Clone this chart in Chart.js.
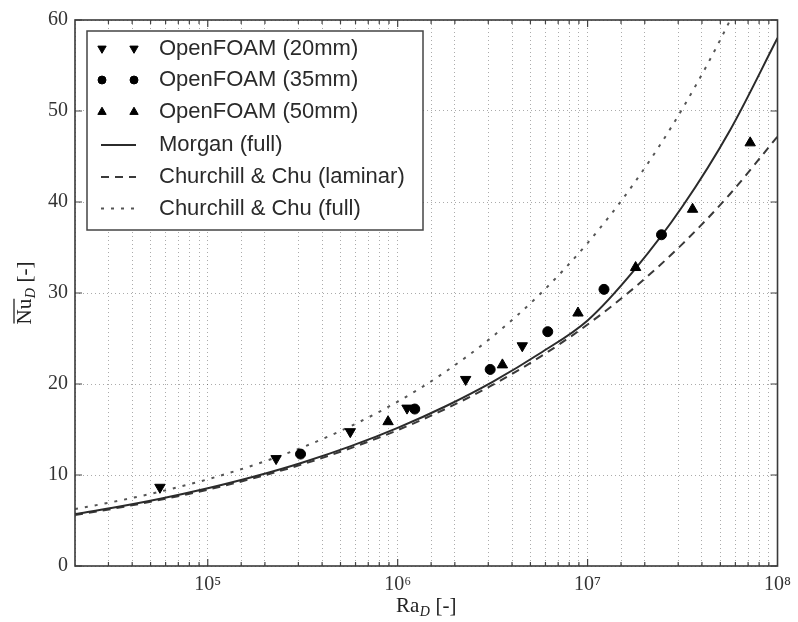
<!DOCTYPE html>
<html><head><meta charset="utf-8">
<script src="https://cdn.jsdelivr.net/npm/chart.js@4/dist/chart.umd.min.js"></script>
<style>html,body{margin:0;padding:0;background:#fff;} canvas{display:block;}</style>
</head><body>
<canvas id="c" width="798" height="622"></canvas>
<script>
// ---- data ----
const raCurve = [2e4, 31623, 56234, 1e5, 177828, 316228, 562341, 1e6, 1778279, 3162278, 5623413, 1e7, 17782794, 31622777, 56234133, 1e8];
const morganFull = [5.71, 6.40, 7.39, 8.54, 9.86, 11.38, 13.14, 15.18, 17.53, 20.24, 23.38, 26.99, 32.63, 39.53, 47.89, 58.02];
const ccLaminar = [5.61, 6.29, 7.27, 8.39, 9.69, 11.19, 12.93, 14.93, 17.24, 19.90, 22.98, 26.54, 30.65, 35.40, 40.88, 47.2];
const ccFull = [6.26, 7.04, 8.18, 9.53, 11.14, 13.05, 15.34, 18.06, 21.32, 25.22, 29.89, 35.49, 42.21, 50.28, 59.97, 71.63];

const of20Ra = [5.6e4, 2.29e5, 5.63e5, 1.12e6, 2.28e6, 4.53e6];
const of20Nu = [8.65, 11.8, 14.76, 17.35, 20.5, 24.2];
const of35Ra = [3.08e5, 1.23e6, 3.07e6, 6.17e6, 1.22e7, 2.45e7];
const of35Nu = [12.3, 17.25, 21.6, 25.75, 30.4, 36.4];
const of50Ra = [8.9e5, 3.56e6, 8.9e6, 1.79e7, 3.57e7, 7.18e7];
const of50Nu = [15.86, 22.1, 27.8, 32.8, 39.2, 46.5];

const seriesLabels = ['OpenFOAM (20mm)', 'OpenFOAM (35mm)', 'OpenFOAM (50mm)', 'Morgan (full)', 'Churchill & Chu (laminar)', 'Churchill & Chu (full)'];
const xTickLabels = {5: '10\u2075', 6: '10\u2076', 7: '10\u2077', 8: '10\u2078'};
const yTickValues = [0, 10, 20, 30, 40, 50, 60];
const xTitle = ['Ra', 'D', ' [-]'];
const yTitle = ['Nu', 'D', ' [-]'];

const zip = (xs, ys) => xs.map((x, i) => ({x: x, y: ys[i]}));
const isDecade = v => { const l = Math.log10(v); return Math.abs(l - Math.round(l)) < 1e-9; };

function shape(ctx, style, rot, r, x, y) {
  ctx.beginPath();
  if (style === 'circle') {
    ctx.arc(x, y, r, 0, Math.PI * 2);
  } else {
    let a = rot * Math.PI / 180;
    ctx.moveTo(x + Math.sin(a) * r, y - Math.cos(a) * r);
    for (let k = 0; k < 2; k++) { a += 2 * Math.PI / 3; ctx.lineTo(x + Math.sin(a) * r, y - Math.cos(a) * r); }
    ctx.closePath();
  }
  ctx.fill(); ctx.stroke();
}

const framePlugin = {
  id: 'frame',
  afterDatasetsDraw(chart) {
    const ctx = chart.ctx, a = chart.chartArea;
    const xs = chart.scales.x, ys = chart.scales.y;
    ctx.save();
    ctx.strokeStyle = '#444'; ctx.lineWidth = 1.2;
    ctx.beginPath();
    xs.ticks.forEach(t => {
      const px = xs.getPixelForValue(t.value);
      if (px <= a.left + 0.5 || px >= a.right - 0.5) return;
      const len = isDecade(t.value) ? 7 : 4;
      ctx.moveTo(px, a.bottom); ctx.lineTo(px, a.bottom - len);
      ctx.moveTo(px, a.top); ctx.lineTo(px, a.top + len);
    });
    ys.ticks.forEach(t => {
      const py = ys.getPixelForValue(t.value);
      ctx.moveTo(a.left, py); ctx.lineTo(a.left + 7, py);
      ctx.moveTo(a.right, py); ctx.lineTo(a.right - 7, py);
    });
    ctx.stroke();
    ctx.lineWidth = 1.6; ctx.strokeStyle = '#3a3a3a';
    ctx.strokeRect(a.left, a.top, a.right - a.left, a.bottom - a.top);

    // legend
    const bx = 87, by = 31, bw = 336, bh = 199;
    ctx.fillStyle = '#fff'; ctx.fillRect(bx, by, bw, bh);
    ctx.lineWidth = 1.5; ctx.strokeStyle = '#444'; ctx.strokeRect(bx, by, bw, bh);
    const rows = [48.5, 80, 112, 145, 177, 208.5];
    chart.data.datasets.forEach((ds, i) => {
      const y = rows[i];
      if (ds.showLine) {
        ctx.beginPath(); ctx.setLineDash(ds.borderDash || []);
        ctx.strokeStyle = ds.borderColor; ctx.lineWidth = ds.borderWidth;
        ctx.moveTo(101, y); ctx.lineTo(136, y); ctx.stroke(); ctx.setLineDash([]);
      } else {
        ctx.fillStyle = '#000'; ctx.strokeStyle = '#000'; ctx.lineWidth = 1;
        [102, 134].forEach(x => shape(ctx, ds.pointStyle, ds.rotation || 0, ds.pointRadius * 0.8, x, y));
      }
      ctx.fillStyle = '#2a2a2a'; ctx.font = '22px "Liberation Sans", Arial, sans-serif';
      ctx.textBaseline = 'middle'; ctx.textAlign = 'left';
      ctx.fillText(ds.label, 159, y);
    });
    ctx.restore();
  },
  afterDraw(chart) {
    const ctx = chart.ctx, a = chart.chartArea;
    ctx.save();
    ctx.fillStyle = '#222'; ctx.strokeStyle = '#222';
    const big = '21px "Liberation Serif", "DejaVu Serif", serif';
    const sub = 'italic 14px "Liberation Serif", "DejaVu Serif", serif';
    function composite(parts, overline) {
      ctx.font = big; const w0 = ctx.measureText(parts[0]).width;
      ctx.font = sub; const w1 = ctx.measureText(parts[1]).width + 1;
      ctx.font = big; const w2 = ctx.measureText(parts[2]).width;
      const tot = w0 + w1 + w2;
      let x = -tot / 2;
      ctx.textBaseline = 'alphabetic'; ctx.textAlign = 'left';
      ctx.font = big; ctx.fillText(parts[0], x, 0);
      if (overline) { ctx.lineWidth = 1.3; ctx.beginPath(); ctx.moveTo(x + 1, -17); ctx.lineTo(x + w0, -17); ctx.stroke(); }
      x += w0;
      ctx.font = sub; ctx.fillText(parts[1], x + 0.5, 4);
      x += w1;
      ctx.font = big; ctx.fillText(parts[2], x, 0);
    }
    ctx.save();
    ctx.translate((a.left + a.right) / 2, 612);
    composite(xTitle, false);
    ctx.restore();
    ctx.save();
    ctx.translate(31, (a.top + a.bottom) / 2);
    ctx.rotate(-Math.PI / 2);
    composite(yTitle, true);
    ctx.restore();
    ctx.restore();
  }
};

const gridOpts = {color: 'rgba(0,0,0,0.33)', lineWidth: 1, drawTicks: false};
const borderOpts = {display: false, dash: [1, 3]};

new Chart(document.getElementById('c'), {
  type: 'scatter',
  data: {
    datasets: [
      {label: seriesLabels[0], data: zip(of20Ra, of20Nu), pointStyle: 'triangle', rotation: 180, pointRadius: 6, backgroundColor: '#000', borderColor: '#000', borderWidth: 1, showLine: false},
      {label: seriesLabels[1], data: zip(of35Ra, of35Nu), pointStyle: 'circle', pointRadius: 5, backgroundColor: '#000', borderColor: '#000', borderWidth: 1, showLine: false},
      {label: seriesLabels[2], data: zip(of50Ra, of50Nu), pointStyle: 'triangle', rotation: 0, pointRadius: 6, backgroundColor: '#000', borderColor: '#000', borderWidth: 1, showLine: false},
      {label: seriesLabels[3], data: zip(raCurve, morganFull), showLine: true, pointRadius: 0, borderColor: '#2b2b2b', borderWidth: 2, cubicInterpolationMode: 'monotone'},
      {label: seriesLabels[4], data: zip(raCurve, ccLaminar), showLine: true, pointRadius: 0, borderColor: '#3a3a3a', borderWidth: 2, borderDash: [8, 6], cubicInterpolationMode: 'monotone'},
      {label: seriesLabels[5], data: zip(raCurve, ccFull), showLine: true, pointRadius: 0, borderColor: '#555', borderWidth: 2, borderDash: [3, 7], cubicInterpolationMode: 'monotone'}
    ]
  },
  options: {
    responsive: false,
    animation: false,
    devicePixelRatio: 1,
    layout: {padding: {top: 20, right: 15, left: 0, bottom: 0}},
    plugins: {legend: {display: false}, tooltip: {enabled: false}},
    scales: {
      x: {
        type: 'logarithmic', min: 2e4, max: 1e8,
        grid: gridOpts, border: borderOpts,
        ticks: {
          autoSkip: false, maxRotation: 0, padding: 7, color: '#333',
          font: {family: '"Liberation Serif", "DejaVu Serif", serif', size: 20},
          callback: v => isDecade(v) ? xTickLabels[Math.round(Math.log10(v))] : ''
        },
        afterFit: s => { s.height = 56; }
      },
      y: {
        type: 'linear', min: 0, max: 60,
        grid: gridOpts, border: borderOpts,
        afterBuildTicks: s => { s.ticks = yTickValues.map(v => ({value: v})); },
        ticks: {
          padding: 7, color: '#333',
          font: {family: '"Liberation Serif", "DejaVu Serif", serif', size: 20}
        },
        afterFit: s => { s.width = 75; }
      }
    }
  },
  plugins: [framePlugin]
});
</script>
</body></html>
